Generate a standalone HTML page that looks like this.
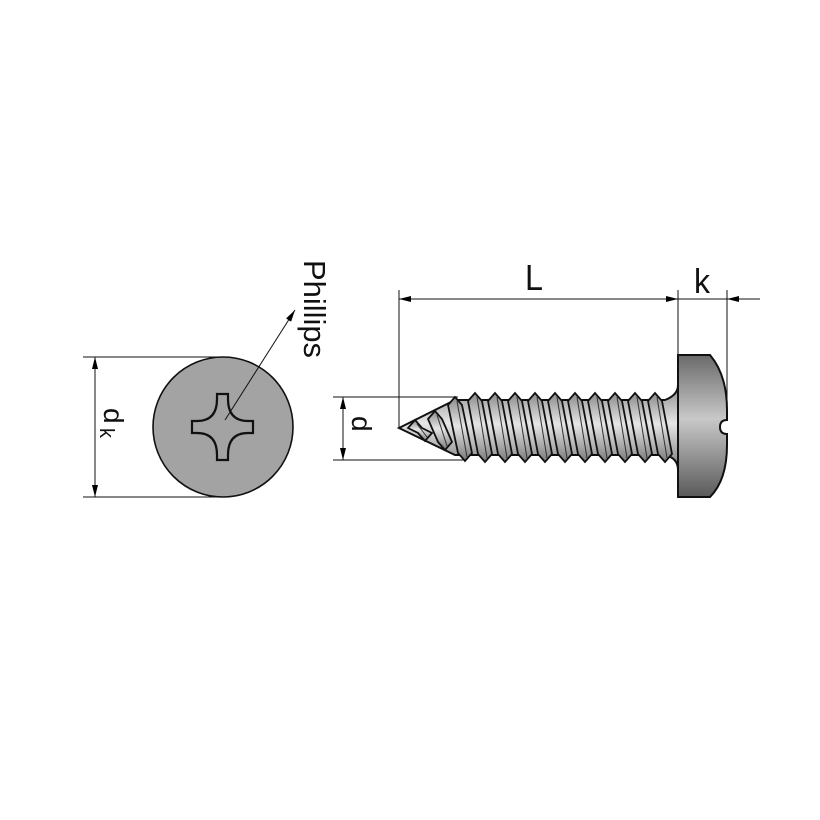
<!DOCTYPE html>
<html><head><meta charset="utf-8"><style>
html,body{margin:0;padding:0;background:#fff;}
svg{display:block;}
text{font-family:"Liberation Sans",sans-serif;fill:#111;}
</style></head><body>
<svg id="s" width="820" height="820" viewBox="0 0 820 820" xmlns="http://www.w3.org/2000/svg">
<defs>
<linearGradient id="body" x1="0" y1="0" x2="0" y2="1">
<stop offset="0" stop-color="#8a8a8a"/><stop offset="0.45" stop-color="#e6e6e6"/><stop offset="1" stop-color="#7a7a7a"/>
</linearGradient>
<linearGradient id="head" x1="0" y1="0" x2="0" y2="1">
<stop offset="0" stop-color="#6a6a6a"/><stop offset="0.45" stop-color="#c8c8c8"/><stop offset="1" stop-color="#5a5a5a"/>
</linearGradient>
<marker id="a" viewBox="0 0 12 6" refX="12" refY="3" markerWidth="12" markerHeight="6" orient="auto-start-reverse" markerUnits="userSpaceOnUse"><path d="M0,0 L12,3 L0,6z" fill="#000"/></marker>
</defs>
<!-- left view -->
<circle cx="223" cy="427" r="70" fill="#a3a3a3" stroke="#111" stroke-width="1.6"/>
<path d="M217,394 h11 v5 c0,14 6,22 20,22 h5 v12 h-5 c-14,0 -20,8 -20,22 v5 h-11 v-5 c0,-14 -6,-22 -20,-22 h-5 v-12 h5 c14,0 20,-8 20,-22z" fill="#a3a3a3" stroke="#111" stroke-width="2.2"/>
<line x1="83" y1="357" x2="223" y2="357" stroke="#111" stroke-width="1"/>
<line x1="83" y1="497" x2="223" y2="497" stroke="#111" stroke-width="1"/>
<line x1="95" y1="357" x2="95" y2="497" stroke="#111" stroke-width="1" marker-start="url(#a)" marker-end="url(#a)"/>
<text transform="translate(104,408) rotate(90)" font-size="28">d</text>
<text transform="translate(100,428) rotate(90)" font-size="20">k</text>
<line x1="225" y1="420" x2="295" y2="310" stroke="#111" stroke-width="1" marker-end="url(#a)"/>
<text transform="translate(304,260) rotate(90)" font-size="31" textLength="98" lengthAdjust="spacingAndGlyphs">Phillips</text>
<!-- dims right -->
<line x1="399" y1="290" x2="399" y2="428" stroke="#111" stroke-width="1"/>
<line x1="678" y1="290" x2="678" y2="356" stroke="#111" stroke-width="1"/>
<line x1="727" y1="290" x2="727" y2="420" stroke="#111" stroke-width="1"/>
<line x1="399" y1="299" x2="678" y2="299" stroke="#111" stroke-width="1" marker-start="url(#a)" marker-end="url(#a)"/>
<line x1="678" y1="299" x2="727" y2="299" stroke="#111" stroke-width="1"/>
<line x1="760" y1="299" x2="727" y2="299" stroke="#111" stroke-width="1" marker-end="url(#a)"/>
<text x="525" y="290" font-size="36" textLength="18" lengthAdjust="spacingAndGlyphs">L</text>
<text x="694" y="293" font-size="34" textLength="16" lengthAdjust="spacingAndGlyphs">k</text>
<line x1="333" y1="397" x2="458" y2="397" stroke="#111" stroke-width="1"/>
<line x1="333" y1="460" x2="465" y2="460" stroke="#111" stroke-width="1"/>
<line x1="343" y1="397" x2="343" y2="460" stroke="#111" stroke-width="1" marker-start="url(#a)" marker-end="url(#a)"/>
<text transform="translate(352,416) rotate(90)" font-size="28">d</text>
<!-- screw -->
<path d="M399,428 L455,400 L665,400 Q678,395 678,385 L678,470 Q678,458 665,455 L455,455z" fill="url(#body)" stroke="#111" stroke-width="2"/>
<g id="th"></g>
<path d="M678,355 L710,355 Q727,375 727,410 L727,420 Q720,420 720,427 Q720,434 727,434 L727,445 Q727,480 710,497 L678,497z" fill="url(#head)" stroke="#111" stroke-width="2"/>
</svg>
<script>
var g=document.getElementById('th'),h='';
var list=[[415,420,425,441],[435,411,445,450],[455,397,465,461]];
for(var x=475;x<=655;x+=20)list.push([x,393,x+10,462]);
list.forEach(function(t){
var x=t[0],y1=t[1],x2=t[2],y2=t[3];
h+='<path d="M'+(x-7)+','+(y1+8)+' L'+x+','+y1+' L'+(x+7)+','+(y1+8)+' L'+(x2+7)+','+(y2-8)+' L'+x2+','+y2+' L'+(x2-7)+','+(y2-8)+'z" fill="url(#body)" stroke="#111" stroke-width="1.8"/>';
h+='<line x1="'+(x+2)+'" y1="'+(y1+4)+'" x2="'+(x2+2)+'" y2="'+(y2-4)+'" stroke="#333" stroke-width="1"/>';
});
g.innerHTML=h;
</script>
</body></html>
